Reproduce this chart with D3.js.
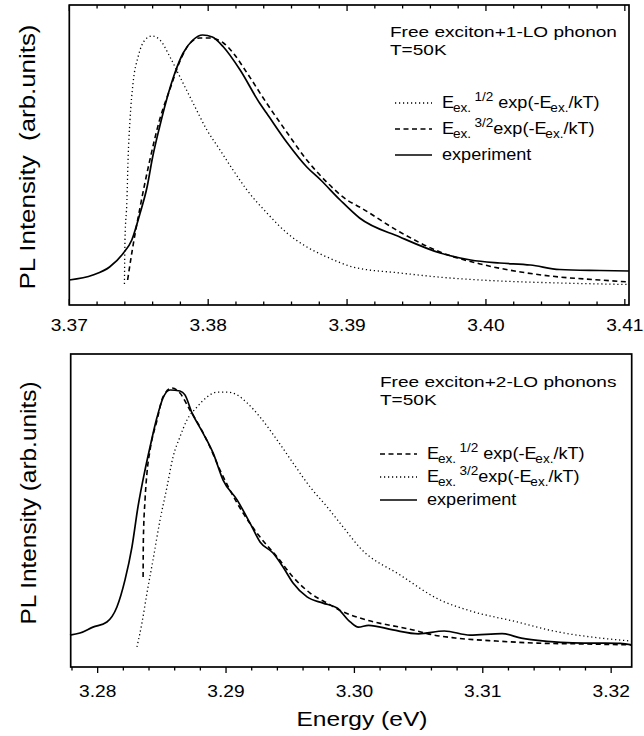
<!DOCTYPE html>
<html><head><meta charset="utf-8">
<script src="https://cdn.jsdelivr.net/npm/d3@7"></script>
<style>body{margin:0;background:#fff}svg{display:block}text{font-family:"Liberation Sans",Arial,Helvetica,sans-serif;fill:#000;white-space:pre}</style>
</head><body>
<svg id="c" width="644" height="736"></svg>
<script>
// ---------- DATA ----------
// Top panel: Free exciton + 1-LO phonon, T=50K  [energy eV, intensity arb.]
const topExperiment = [[3.3700,0.020],[3.3717,0.040],[3.3729,0.072],[3.3739,0.128],[3.3745,0.180],[3.3751,0.288],[3.3756,0.392],[3.3760,0.512],[3.3765,0.632],[3.3770,0.740],[3.3776,0.848],[3.3782,0.928],[3.3789,0.980],[3.3796,1.000],[3.3803,0.992],[3.3811,0.952],[3.3823,0.860],[3.3837,0.728],[3.3842,0.688],[3.3857,0.568],[3.3871,0.472],[3.3881,0.420],[3.3895,0.340],[3.3909,0.268],[3.3938,0.192],[3.3967,0.128],[3.3989,0.100],[3.4010,0.088],[3.4032,0.080],[3.4053,0.062],[3.4082,0.058],[3.4103,0.056]];
const topHalf = [[3.37397,0.004],[3.37401,0.180],[3.37415,0.340],[3.37423,0.500],[3.37437,0.660],[3.37459,0.808],[3.37495,0.912],[3.37545,0.980],[3.37595,0.996],[3.37653,0.980],[3.37725,0.912],[3.37797,0.832],[3.37891,0.728],[3.37991,0.620],[3.38085,0.540],[3.38179,0.460],[3.38279,0.380],[3.38423,0.288],[3.38567,0.208],[3.38711,0.152],[3.38855,0.112],[3.39042,0.072],[3.39381,0.048],[3.39741,0.028],[3.40101,0.016],[3.40533,0.008],[3.41029,0.002]];
const topThreeHalf = [[3.3742,0.020],[3.3745,0.128],[3.3751,0.312],[3.3758,0.500],[3.3765,0.660],[3.3773,0.792],[3.3780,0.900],[3.3787,0.968],[3.3794,0.988],[3.3801,0.988],[3.3811,0.968],[3.3818,0.928],[3.3828,0.848],[3.3842,0.728],[3.3857,0.608],[3.3871,0.500],[3.3886,0.408],[3.3900,0.340],[3.3909,0.312],[3.3938,0.212],[3.3967,0.132],[3.3996,0.084],[3.4025,0.052],[3.4053,0.032],[3.4082,0.020],[3.4103,0.012]];
// Bottom panel: Free exciton + 2-LO phonons, T=50K
const botExperiment = [[3.27784,0.050],[3.27862,0.058],[3.27963,0.081],[3.28072,0.101],[3.28150,0.159],[3.28213,0.264],[3.28267,0.391],[3.28314,0.547],[3.28369,0.690],[3.28408,0.779],[3.28463,0.895],[3.28509,0.969],[3.28564,1.000],[3.28641,0.996],[3.28680,0.981],[3.28735,0.911],[3.28821,0.833],[3.28899,0.756],[3.28977,0.651],[3.29086,0.574],[3.29187,0.484],[3.29265,0.411],[3.29366,0.368],[3.29444,0.314],[3.29522,0.252],[3.29631,0.198],[3.29756,0.174],[3.29865,0.155],[3.29967,0.101],[3.30030,0.081],[3.30110,0.088],[3.30300,0.070],[3.30500,0.055],[3.30700,0.066],[3.30900,0.050],[3.31150,0.056],[3.31300,0.038],[3.31500,0.026],[3.31700,0.020],[3.31900,0.019],[3.32072,0.018],[3.32162,0.012]];
const botHalf = [[3.28354,0.275],[3.28356,0.420],[3.28369,0.574],[3.28384,0.678],[3.28408,0.767],[3.28463,0.884],[3.28509,0.973],[3.28579,1.008],[3.28641,0.988],[3.28719,0.922],[3.28797,0.857],[3.28875,0.779],[3.28953,0.690],[3.29031,0.612],[3.29133,0.523],[3.29265,0.430],[3.29398,0.353],[3.29522,0.275],[3.29655,0.213],[3.29787,0.174],[3.29912,0.140],[3.30044,0.116],[3.30457,0.070],[3.30621,0.050],[3.30785,0.039],[3.31105,0.027],[3.31424,0.019],[3.31752,0.016],[3.32157,0.012]];
const botThreeHalf = [[3.28306,0.004],[3.28345,0.097],[3.28384,0.213],[3.28431,0.341],[3.28486,0.496],[3.28540,0.624],[3.28587,0.740],[3.28641,0.818],[3.28696,0.884],[3.28774,0.934],[3.28852,0.973],[3.28930,0.992],[3.29008,0.992],[3.29086,0.981],[3.29164,0.950],[3.29265,0.895],[3.29398,0.806],[3.29522,0.717],[3.29655,0.624],[3.29787,0.547],[3.29912,0.469],[3.30044,0.388],[3.30356,0.283],[3.30668,0.186],[3.30910,0.143],[3.31268,0.101],[3.31588,0.062],[3.31908,0.039],[3.32157,0.027]];
const topTicks = [3.37,3.38,3.39,3.40,3.41];
const topTickLabels = ["3.37","3.38","3.39","3.40","3.41"];
const botTicks = [3.28,3.29,3.30,3.31,3.32];
const botTickLabels = ["3.28","3.29","3.30","3.31","3.32"];
const topTitle = ["Free exciton+1-LO phonon","T=50K"];
const botTitle = ["Free exciton+2-LO phonons","T=50K"];
const yLabel = "PL Intensity  (arb.units)";
const yLabel2 = "PL Intensity (arb.units)";
const xLabel = "Energy (eV)";

// ---------- DRAW ----------
const svg = d3.select("#c");
const DOT = "1.2,2.8", DASH = "5,3.5";

// text horizontally stretched (the reference lettering is wide)
function wtext(parent, x, y, k, size, anchor){
  return parent.append("g").attr("transform",`translate(${x},${y}) scale(${k},1)`)
    .append("text").attr("x",0).attr("y",0).attr("font-size",size).attr("text-anchor",anchor||"start");
}

function panel(o){
  const g = svg.append("g");
  const x = d3.scaleLinear().domain(o.xd).range([o.l,o.r]);
  const y = d3.scaleLinear().domain(o.yd).range([o.b,o.t]);
  const line = d3.line().x(d=>x(d[0])).y(d=>y(d[1])).curve(d3.curveMonotoneX);
  o.series.forEach(s=>{
    g.append("path").attr("d",line(s.data)).attr("fill","none").attr("stroke","#000")
     .attr("stroke-width",s.w).attr("stroke-dasharray",s.dash||null);
  });
  g.append("rect").attr("x",o.l).attr("y",o.t).attr("width",o.r-o.l).attr("height",o.b-o.t)
   .attr("fill","none").attr("stroke","#000").attr("stroke-width",1.7);
  const minor = d3.range(o.minorStart, o.xd[1]+1e-9, 0.002);
  const dir = o.inward ? -1 : 1;
  minor.forEach(v=>{
    const isMajor = Math.abs(Math.round(v*100)-v*100)<1e-6;
    const len = isMajor?6:3.5;
    g.append("line").attr("x1",x(v)).attr("x2",x(v)).attr("y1",o.b).attr("y2",o.b+dir*len)
     .attr("stroke","#000").attr("stroke-width",1.3);
    if(o.topTicks){
      g.append("line").attr("x1",x(v)).attr("x2",x(v)).attr("y1",o.t).attr("y2",o.t+len)
       .attr("stroke","#000").attr("stroke-width",1.3);
    }
  });
  o.ticks.forEach((v,i)=>{
    wtext(g, x(v), o.labelY, 1.2, 16, "middle").text(o.tickLabels[i]);
  });
  g.append("text").attr("transform",`translate(${o.ylx},${o.ylc}) rotate(-90)`)
   .attr("text-anchor","middle").attr("font-size",22)
   .attr("textLength",o.ylen).attr("lengthAdjust","spacingAndGlyphs").text(o.ylabel);
  o.title.forEach((t,i)=>{
    wtext(g, o.tx, o.ty+i*17.5, 1.27, 15).text(t);
  });
  o.legend.forEach((e,i)=>{
    const yy = o.ly + i*o.lstep;
    g.append("line").attr("x1",o.lx).attr("x2",o.lx+37).attr("y1",yy-5).attr("y2",yy-5)
     .attr("stroke","#000").attr("stroke-width",e.w).attr("stroke-dasharray",e.dash||null);
    const t = wtext(g, o.lx+47, yy, 1.13, 16);
    if(e.kind==="exp"){
      t.append("tspan").text("E");
      t.append("tspan").attr("font-size",12).attr("dx",-1).attr("dy",4).text("ex.");
      t.append("tspan").attr("font-size",12).attr("dx",3).attr("dy",-11).text(e.pow);
      t.append("tspan").attr("dy",7).text(e.gap?" exp(-E":"exp(-E");
      t.append("tspan").attr("font-size",12).attr("dx",-1).attr("dy",4).text("ex.");
      t.append("tspan").attr("dy",-4).text("/kT)");
    } else {
      t.text(e.text);
    }
  });
}

panel({xd:[3.37,3.4103], yd:[-0.08,1.12], l:69.3, r:629, t:5, b:305, minorStart:3.37,
  inward:true, topTicks:true, ticks:topTicks, tickLabels:topTickLabels, labelY:331,
  ylx:35, ylc:157, ylen:265, ylabel:yLabel, title:topTitle, tx:390, ty:37,
  series:[{data:topHalf,w:1.3,dash:DOT},{data:topThreeHalf,w:1.6,dash:DASH},{data:topExperiment,w:1.7}],
  lx:395, ly:108, lstep:26,
  legend:[{kind:"exp",pow:"1/2",gap:true,w:1.3,dash:DOT},{kind:"exp",pow:"3/2",gap:false,w:1.6,dash:DASH},{kind:"text",text:"experiment",w:1.7}]
});
panel({xd:[3.2779,3.3216], yd:[-0.0736,1.1395], l:70.7, r:631.7, t:354, b:667, minorStart:3.278,
  inward:false, topTicks:false, ticks:botTicks, tickLabels:botTickLabels, labelY:697,
  ylx:36, ylc:503, ylen:243, ylabel:yLabel2, title:botTitle, tx:380, ty:387,
  series:[{data:botThreeHalf,w:1.3,dash:DOT},{data:botHalf,w:1.6,dash:DASH},{data:botExperiment,w:1.7}],
  lx:380, ly:459, lstep:23,
  legend:[{kind:"exp",pow:"1/2",gap:true,w:1.6,dash:DASH},{kind:"exp",pow:"3/2",gap:false,w:1.3,dash:DOT},{kind:"text",text:"experiment",w:1.7}]
});
wtext(svg, 362, 726, 1.17, 21, "middle").text(xLabel);
</script>
</body></html>
